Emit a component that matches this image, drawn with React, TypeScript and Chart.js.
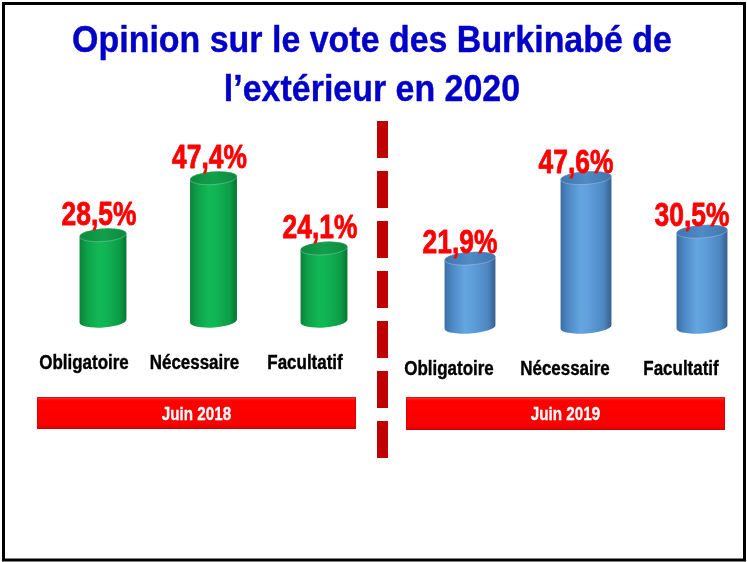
import React, { useEffect, useRef } from "react";
import { Chart, registerables } from "chart.js";

Chart.register(...registerables);

// ---- data ----
const categories = ["Obligatoire", "Nécessaire", "Facultatif"];
const values2018 = [28.5, 47.4, 24.1];
const values2019 = [21.9, 47.6, 30.5];
const panelLabels = ["Juin 2018", "Juin 2019"];
const titleLines = ["Opinion sur le vote des Burkinabé de", "l’extérieur en 2020"];

// ---- styles ----
const FONT = '"Liberation Sans", Arial, Helvetica, sans-serif';
const greenPalette = {
  body: [
    [0, "#0a8239"],
    [0.15, "#0ea048"],
    [0.4, "#12b856"],
    [0.55, "#10b554"],
    [0.85, "#0c9c46"],
    [1, "#087533"],
  ],
  top: [
    [0, "#0b8a3e"],
    [0.5, "#12a04c"],
    [1, "#0b8a3e"],
  ],
};
const bluePalette = {
  body: [
    [0, "#3a6ea3"],
    [0.15, "#4d88c4"],
    [0.4, "#65a5e0"],
    [0.55, "#5f9edb"],
    [0.85, "#4d87c1"],
    [1, "#355f8e"],
  ],
  top: [
    [0, "#3f75ad"],
    [0.5, "#4f8bc6"],
    [1, "#3f75ad"],
  ],
};

function drawText(ctx, text, x, y, size, sx, color, weightStroke = 0) {
  ctx.save();
  ctx.font = `bold ${size}px ${FONT}`;
  ctx.fillStyle = color;
  ctx.textAlign = "center";
  ctx.textBaseline = "alphabetic";
  ctx.translate(x, y);
  ctx.scale(sx, 1);
  ctx.fillText(text, 0, 0);
  if (weightStroke > 0) {
    ctx.strokeStyle = color;
    ctx.lineWidth = weightStroke;
    ctx.lineJoin = "round";
    ctx.strokeText(text, 0, 0);
  }
  ctx.restore();
}

function drawCylinder(ctx, cx, topY, baseY, w, pal) {
  const rx = w / 2;
  const ry = 6.5;
  const t = -0.07;
  ctx.save();
  const g = ctx.createLinearGradient(cx - rx, 0, cx + rx, 0);
  pal.body.forEach(([o, c]) => g.addColorStop(o, c));
  ctx.beginPath();
  ctx.ellipse(cx, topY, rx, ry, t, Math.PI, 0, false);
  ctx.ellipse(cx, baseY, rx, ry, t, 0, Math.PI, false);
  ctx.closePath();
  ctx.fillStyle = g;
  ctx.fill();
  const gt = ctx.createLinearGradient(cx - rx, 0, cx + rx, 0);
  pal.top.forEach(([o, c]) => gt.addColorStop(o, c));
  ctx.beginPath();
  ctx.ellipse(cx, topY, rx, ry, t, 0, Math.PI * 2);
  ctx.fillStyle = gt;
  ctx.fill();
  ctx.strokeStyle = "rgba(255,255,255,0.25)";
  ctx.lineWidth = 1;
  ctx.stroke();
  ctx.restore();
}

function drawBanner(ctx, x, y, w, h, text) {
  ctx.save();
  const g = ctx.createLinearGradient(0, y, 0, y + h);
  g.addColorStop(0, "#ff3a3a");
  g.addColorStop(0.12, "#ff0000");
  g.addColorStop(0.85, "#fa0000");
  g.addColorStop(1, "#d80000");
  ctx.fillStyle = g;
  ctx.fillRect(x, y, w, h);
  ctx.strokeStyle = "rgba(190,0,0,0.6)";
  ctx.lineWidth = 1;
  ctx.strokeRect(x + 0.5, y + 0.5, w - 1, h - 1);
  ctx.restore();
  drawText(ctx, text, x + w / 2, y + 23, 19, 0.8, "#ffffff", 0.3);
}

function drawDecor(ctx) {
  ctx.save();
  ctx.fillStyle = "#ffffff";
  ctx.fillRect(0, 0, 747, 562);
  // frame
  ctx.strokeStyle = "#000000";
  ctx.lineWidth = 3;
  ctx.strokeRect(3.5, 3.5, 741, 556.5);
  // divider
  ctx.strokeStyle = "#c00000";
  ctx.lineWidth = 11;
  ctx.setLineDash([37, 13]);
  ctx.beginPath();
  ctx.moveTo(382.5, 121);
  ctx.lineTo(382.5, 458);
  ctx.stroke();
  ctx.restore();
  // title
  drawText(ctx, titleLines[0], 372, 52, 36.5, 0.93, "#0000c8", 0.4);
  drawText(ctx, titleLines[1], 372, 101, 36.5, 0.93, "#0000c8", 0.4);
}

const fmt = (v) => v.toFixed(1).replace(".", ",") + "%";

function makePanelPlugin(cfg) {
  return {
    id: "panel" + cfg.key,
    beforeDraw(chart) {
      if (cfg.decor) drawDecor(chart.ctx);
    },
    afterDatasetsDraw(chart) {
      const ctx = chart.ctx;
      const meta = chart.getDatasetMeta(0);
      const ds = chart.data.datasets[0];
      meta.data.forEach((el, i) => {
        const p = el.getProps(["x", "y", "base", "width"], true);
        drawCylinder(ctx, p.x, p.y, p.base, p.width, cfg.palette);
        drawText(ctx, fmt(ds.data[i]), p.x + cfg.valueDx, p.y + cfg.valueDy, 33, 0.8, "#ff0000", 0.8);
        drawText(ctx, String(chart.data.labels[i]), p.x + cfg.labelDx, p.base + 48, 19.5, 0.87, "#000000", 0.4);
      });
      const b = cfg.banner;
      drawBanner(ctx, b[0], b[1], b[2], b[3], cfg.bannerText);
    },
  };
}

function makeConfig(values, padding, thickness, plugin) {
  return {
    type: "bar",
    data: {
      labels: categories,
      datasets: [
        {
          data: values,
          backgroundColor: "rgba(0,0,0,0)",
          borderWidth: 0,
          barThickness: thickness,
        },
      ],
    },
    options: {
      animation: false,
      responsive: false,
      devicePixelRatio: 1,
      layout: { padding },
      scales: {
        x: { display: false, offset: false },
        y: { display: false, min: 0, max: 60 },
      },
      plugins: {
        legend: { display: false },
        tooltip: { enabled: false },
        title: { display: false },
      },
    },
    plugins: [plugin],
  };
}

export default function App() {
  const leftRef = useRef(null);
  const rightRef = useRef(null);

  useEffect(() => {
    const left = new Chart(
      leftRef.current,
      makeConfig(
        values2018,
        { left: 103, right: 423, top: 140, bottom: 241 },
        47,
        makePanelPlugin({
          key: "L",
          decor: true,
          palette: greenPalette,
          valueDx: -4,
          valueDy: -10,
          labelDx: -19,
          banner: [37, 397, 319, 32],
          bannerText: panelLabels[0],
        })
      )
    );
    const right = new Chart(
      rightRef.current,
      makeConfig(
        values2019,
        { left: 470, right: 45, top: 139, bottom: 235 },
        51,
        makePanelPlugin({
          key: "R",
          decor: false,
          palette: bluePalette,
          valueDx: -10,
          valueDy: -5,
          labelDx: -21,
          banner: [406, 397, 319, 33],
          bannerText: panelLabels[1],
        })
      )
    );
    return () => {
      left.destroy();
      right.destroy();
    };
  }, []);

  return (
    <div style={{ position: "fixed", left: 0, top: 0, width: 747, height: 562, background: "#fff" }}>
      <canvas ref={leftRef} width={747} height={562} style={{ position: "absolute", left: 0, top: 0 }} />
      <canvas ref={rightRef} width={747} height={562} style={{ position: "absolute", left: 0, top: 0 }} />
    </div>
  );
}
